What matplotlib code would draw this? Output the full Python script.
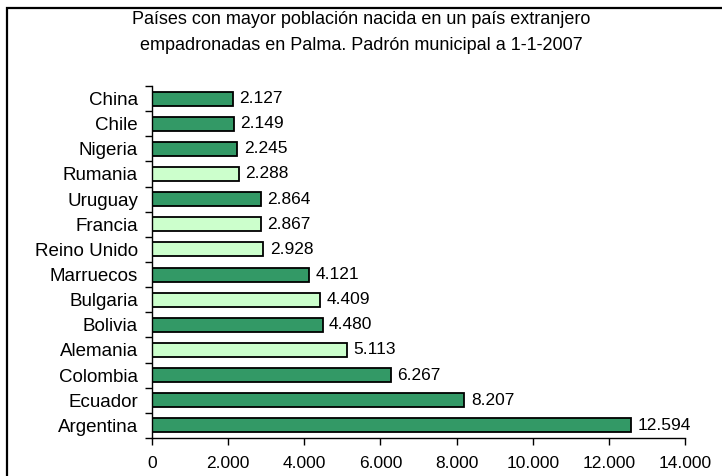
import matplotlib
matplotlib.use("Agg")
import matplotlib.pyplot as plt
from matplotlib.patches import Rectangle

plt.rcParams['font.family'] = ['Liberation Sans', 'DejaVu Sans']

# data (bottom to top)
countries = ['Argentina', 'Ecuador', 'Colombia', 'Alemania', 'Bolivia', 'Bulgaria',
             'Marruecos', 'Reino Unido', 'Francia', 'Uruguay', 'Rumania', 'Nigeria',
             'Chile', 'China']
values = [12594, 8207, 6267, 5113, 4480, 4409, 4121, 2928, 2867, 2864, 2288, 2245,
          2149, 2127]
eu_member = [False, False, False, True, False, True, False, True, True, False, True,
             False, False, False]
xticks = [0, 2000, 4000, 6000, 8000, 10000, 12000, 14000]

DARK = '#339966'
LIGHT = '#CCFFCC'


def fmt(v):
    return f'{v:,}'.replace(',', '.')


fig = plt.figure(figsize=(7.22, 4.76), dpi=100)
ax = fig.add_axes([152 / 722, 38 / 476, (685 - 152) / 722, (438 - 86) / 476])

colors = [LIGHT if e else DARK for e in eu_member]
pos = list(range(len(countries)))
ax.barh(pos, values, height=0.56, color=colors, edgecolor='black', linewidth=1.3)

for p, v in zip(pos, values):
    ax.text(v + 170, p, fmt(v), va='center', ha='left', fontsize=12.5)

ax.set_xlim(0, 14000)
ax.set_ylim(-0.5, len(countries) - 0.5)
ax.set_xticks(xticks)
ax.set_xticklabels([fmt(t) for t in xticks], fontsize=12.5)

# ticks between categories, labels at category centres
ax.set_yticks([p - 0.5 for p in pos] + [len(countries) - 0.5])
ax.set_yticklabels([])
ax.set_yticks(pos, minor=True)
ax.set_yticklabels(countries, minor=True, fontsize=13.5)
ax.tick_params(axis='y', which='minor', length=0, pad=10)
ax.tick_params(axis='y', which='major', length=5, width=1, direction='out')
ax.tick_params(axis='x', length=5, width=1, direction='out', pad=8)

ax.spines['top'].set_visible(False)
ax.spines['right'].set_visible(False)
ax.spines['left'].set_linewidth(1)
ax.spines['bottom'].set_linewidth(1)

fig.text(0.5, 1 - 20 / 476, 'Países con mayor población nacida en un país extranjero',
         ha='center', va='center', fontsize=13)
fig.text(0.5, 1 - 45 / 476, 'empadronadas en Palma. Padrón municipal a 1-1-2007',
         ha='center', va='center', fontsize=13)

# chart frame (runs off the right and bottom edge)
fig.patches.append(Rectangle((7 / 722, -0.1), 1.2, 1 - 8 / 476 + 0.1,
                             transform=fig.transFigure, fill=False,
                             edgecolor='black', linewidth=1.6))

fig.savefig('out.png', dpi=100)
